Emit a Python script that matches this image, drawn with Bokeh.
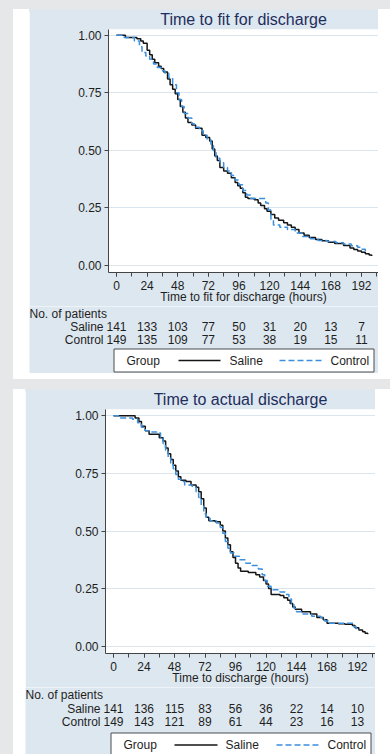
from bokeh.plotting import figure
from bokeh.models import Range1d, FixedTicker, PrintfTickFormatter, Div, Plot
from bokeh.layouts import column, row
from bokeh.core.properties import value
from bokeh.embed import file_html
from bokeh.resources import INLINE

# ---------------- data ----------------
x_ticks = [0, 24, 48, 72, 96, 120, 144, 168, 192]
x_minor = [0, 12, 24, 36, 48, 60, 72, 84, 96, 108, 120, 132, 144, 156, 168, 180, 192, 204]
y_ticks = [0.0, 0.25, 0.5, 0.75, 1.0]
groups = ["Saline", "Control"]
legend_title = "Group"
risk_header = "No. of patients"

# Panel 1: time to fit for discharge
fit_title = "Time to fit for discharge"
fit_xlabel = "Time to fit for discharge (hours)"
fit_saline_time = [0, 7, 16, 19, 21, 24, 26, 28, 30, 33, 35, 37, 40, 42, 44, 46, 48, 50, 52, 54,
                   56, 59, 62, 67, 70, 73, 75, 77, 79, 81, 84, 87, 90, 93, 95, 97, 99, 101, 103, 108,
                   111, 113, 116, 118, 121, 124, 127, 131, 134, 137, 140, 143, 147, 151, 156, 161, 166, 171, 178, 183,
                   186, 189, 192, 195, 198, 200]
fit_saline_surv = [1.0, 0.99, 0.985, 0.975, 0.965, 0.935, 0.915, 0.895, 0.88, 0.865, 0.855, 0.84, 0.81, 0.785, 0.765, 0.745, 0.72, 0.69, 0.665, 0.64,
                   0.62, 0.61, 0.595, 0.565, 0.555, 0.54, 0.505, 0.475, 0.455, 0.425, 0.41, 0.40, 0.38, 0.36, 0.345, 0.335, 0.315, 0.295, 0.29, 0.285,
                   0.27, 0.26, 0.245, 0.235, 0.22, 0.205, 0.195, 0.185, 0.175, 0.165, 0.155, 0.14, 0.13, 0.12, 0.112, 0.106, 0.10, 0.094, 0.086, 0.075,
                   0.068, 0.062, 0.056, 0.05, 0.045, 0.04]
fit_control_time = [0, 6, 14, 18, 20, 23, 26, 29, 32, 35, 38, 41, 44, 47, 49, 51, 53, 56, 59, 61,
                    65, 68, 71, 74, 76, 78, 81, 84, 87, 90, 93, 96, 99, 102, 105, 117, 119, 121, 123, 128,
                    134, 140, 146, 152, 158, 165, 172, 178, 184, 189, 192, 195]
fit_control_surv = [1.0, 0.99, 0.975, 0.95, 0.925, 0.91, 0.895, 0.875, 0.86, 0.845, 0.835, 0.815, 0.785, 0.75, 0.72, 0.69, 0.66, 0.64, 0.615, 0.60,
                    0.585, 0.565, 0.545, 0.52, 0.49, 0.465, 0.445, 0.425, 0.41, 0.39, 0.37, 0.35, 0.325, 0.305, 0.29, 0.27, 0.24, 0.20, 0.175, 0.165,
                    0.155, 0.14, 0.125, 0.115, 0.108, 0.103, 0.098, 0.092, 0.085, 0.078, 0.07, 0.055]
fit_risk_saline = [141, 133, 103, 77, 50, 31, 20, 13, 7]
fit_risk_control = [149, 135, 109, 77, 53, 38, 19, 15, 11]

# Panel 2: time to actual discharge
act_title = "Time to actual discharge"
act_xlabel = "Time to discharge (hours)"
act_saline_time = [0, 17, 20, 22, 25, 28, 36, 39, 41, 43, 45, 47, 49, 51, 53, 57, 61, 65, 67, 69,
                   71, 73, 75, 80, 84, 86, 88, 90, 92, 94, 96, 98, 100, 106, 112, 115, 118, 120, 122, 124,
                   131, 134, 137, 139, 141, 143, 148, 155, 160, 165, 168, 177, 182, 188, 190, 193, 196, 198, 200]
act_saline_surv = [1.0, 0.99, 0.975, 0.955, 0.935, 0.92, 0.905, 0.89, 0.86, 0.835, 0.81, 0.785, 0.76, 0.735, 0.72, 0.715, 0.70, 0.69, 0.67, 0.64,
                   0.60, 0.56, 0.545, 0.54, 0.525, 0.50, 0.47, 0.44, 0.41, 0.385, 0.36, 0.34, 0.325, 0.32, 0.31, 0.30, 0.285, 0.27, 0.25, 0.225,
                   0.22, 0.21, 0.20, 0.185, 0.17, 0.16, 0.15, 0.14, 0.125, 0.115, 0.10, 0.098, 0.095, 0.09, 0.08, 0.07, 0.063, 0.056, 0.052]
act_control_time = [0, 4, 15, 19, 22, 25, 28, 34, 37, 39, 41, 43, 45, 47, 49, 51, 53, 56, 62, 65,
                    67, 69, 71, 73, 76, 81, 84, 86, 88, 90, 92, 95, 99, 104, 109, 114, 117, 119, 121, 124,
                    131, 135, 138, 140, 142, 144, 149, 156, 163, 166, 169, 189, 191, 193]
act_control_surv = [1.0, 0.99, 0.985, 0.97, 0.95, 0.935, 0.93, 0.925, 0.90, 0.88, 0.85, 0.82, 0.795, 0.77, 0.745, 0.725, 0.715, 0.70, 0.69, 0.67,
                    0.645, 0.61, 0.575, 0.555, 0.545, 0.535, 0.515, 0.49, 0.455, 0.425, 0.405, 0.39, 0.375, 0.36, 0.35, 0.335, 0.31, 0.285, 0.26, 0.245,
                    0.235, 0.225, 0.205, 0.185, 0.165, 0.15, 0.14, 0.13, 0.125, 0.11, 0.10, 0.085, 0.075, 0.07]
act_risk_saline = [141, 136, 115, 83, 56, 36, 22, 14, 10]
act_risk_control = [149, 143, 121, 89, 61, 44, 23, 16, 13]

# ---------------- style ----------------
FONT = "Liberation Sans"
PAGE_BG = "#e6e7e9"
CARD = "#ffffff"
PANEL = "#dde7ef"
GRID = "#dae5ee"
TEXT = "#1e1e1e"
TITLE_C = "#1f2d5c"
AXIS_C = "#444444"
SAL_C = "#151515"
CON_C = "#3b8fdc"
DASH = "6 3"
HAS_FRAME_ALIGN = "frame_align" in Plot.properties()


def block(w, h, color):
    return Div(text=f'<div style="width:{w}px;height:{h}px;background:{color}"></div>',
               width=w, height=h, margin=0, styles={"background-color": color})


def km_figure(title, xlabel, st, ss, ct, cs, w, ml, mt, fh, mb, xr, yr):
    p = figure(width=w, height=mt + fh + mb, x_range=Range1d(*xr), y_range=Range1d(*yr),
               output_backend="svg", toolbar_location=None,
               min_border_left=ml, min_border_right=0, min_border_top=mt,
               min_border_bottom=mb, border_fill_color=PANEL,
               background_fill_color="white", outline_line_color=None)
    if HAS_FRAME_ALIGN:
        p.frame_align = False
    p.title.text = title
    p.title.align = "center"
    p.title.vertical_align = "top"
    p.title.standoff = 0
    p.title.text_font = FONT
    p.title.text_font_size = "16px"
    p.title.text_font_style = "normal"
    p.title.text_color = TITLE_C
    p.xaxis.ticker = FixedTicker(ticks=x_ticks, minor_ticks=x_minor)
    p.yaxis.ticker = FixedTicker(ticks=y_ticks, minor_ticks=[])
    p.yaxis.formatter = PrintfTickFormatter(format="%.2f")
    for ax in (p.xaxis[0], p.yaxis[0]):
        ax.axis_line_color = AXIS_C
        ax.major_tick_line_color = AXIS_C
        ax.minor_tick_line_color = AXIS_C
        ax.major_tick_in = 0
        ax.major_tick_out = 4
        ax.minor_tick_in = 0
        ax.major_label_text_font = FONT
        ax.major_label_text_font_size = "12px"
        ax.major_label_text_color = TEXT
        ax.axis_label_text_font = FONT
        ax.axis_label_text_font_style = "normal"
        ax.axis_label_text_color = TEXT
    p.xaxis.minor_tick_out = 4
    p.yaxis.minor_tick_out = 0
    p.yaxis.major_label_standoff = 3
    p.yaxis.major_label_orientation = "horizontal"
    p.xaxis.major_label_standoff = 4
    p.xaxis.axis_label = xlabel
    p.xaxis.axis_label_text_font_size = "12px"
    p.xaxis.axis_label_standoff = -3
    p.xgrid.visible = False
    p.ygrid.grid_line_color = GRID
    p.ygrid.grid_line_width = 1
    p.step(st, ss, mode="after", line_color=SAL_C, line_width=1.5)
    p.step(ct, cs, mode="after", line_color=CON_C, line_width=1.5, line_dash=DASH)
    return p


def table_figure(rs, rc, w, h, xr, rows_y, name_px, box, leg_px):
    # x: hours (same mapping as the plot above); "px": pixel layout space
    p = figure(frame_width=w, frame_height=h, x_range=Range1d(*xr), y_range=Range1d(h, 0),
               output_backend="svg", toolbar_location=None,
               x_axis_type=None, y_axis_type=None,
               min_border_left=0, min_border_right=0, min_border_top=0,
               min_border_bottom=0, border_fill_color=PANEL,
               background_fill_color=PANEL, outline_line_color=None)
    if HAS_FRAME_ALIGN:
        p.frame_align = False
    p.extra_x_ranges = {"px": Range1d(0, w)}
    common = dict(text_font=value(FONT), text_font_size=value("12px"),
                  text_color=TEXT, text_baseline="middle")
    hy, sy, cy = rows_y
    p.text(x=[0], y=[hy], text=[risk_header], text_align="left", x_range_name="px", **common)
    p.text(x=[name_px, name_px], y=[sy, cy], text=groups, text_align="right",
           x_range_name="px", **common)
    xs = x_ticks + x_ticks
    ys = [sy] * len(rs) + [cy] * len(rc)
    labels = [str(n) for n in rs] + [str(n) for n in rc]
    p.text(x=xs, y=ys, text=labels, text_align="center", **common)
    # legend box
    bl, br, bt, bb = box
    p.quad(left=[bl], right=[br], top=[bt], bottom=[bb], fill_color="white",
           line_color="#4d4d4d", line_width=1, x_range_name="px")
    ly = (bt + bb) / 2
    tg, s0, s1, ls, c0, c1, lc = leg_px
    p.line(x=[s0, s1], y=[ly, ly], line_color=SAL_C, line_width=1.5, x_range_name="px")
    p.line(x=[c0, c1], y=[ly, ly], line_color=CON_C, line_width=1.5, line_dash=DASH,
           x_range_name="px")
    p.text(x=[tg, ls, lc], y=[ly, ly, ly], text=[legend_title] + groups,
           text_align="left", x_range_name="px", **common)
    return p


# pixel geometry: x = 0 h at X0 px from panel left, K px per hour
P1_W, P1_ML, P1_X0, P1_K = 349, 79, 87, 1.276
P2_W, P2_ML, P2_X0, P2_K = 350, 80, 88, 1.271


def hours(px, x0, k):
    return (px - x0) / k


fA1 = km_figure(fit_title, fit_xlabel, fit_saline_time, fit_saline_surv, fit_control_time,
                fit_control_surv, P1_W, P1_ML, 20, 244, 33,
                (hours(P1_ML, P1_X0, P1_K), hours(P1_W, P1_X0, P1_K)), (-0.0316, 1.0247))
fB1 = table_figure(fit_risk_saline, fit_risk_control, P1_W, 67,
                   (hours(0, P1_X0, P1_K), hours(P1_W, P1_X0, P1_K)),
                   (7, 20, 33), 74, (84.5, 344.5, 42.5, 65.5),
                   (97, 149, 191, 200, 250, 293, 301))

fA2 = km_figure(act_title, act_xlabel, act_saline_time, act_saline_surv, act_control_time,
                act_control_surv, P2_W, P2_ML, 20, 245, 33,
                (hours(P2_ML, P2_X0, P2_K), hours(P2_W, P2_X0, P2_K)), (-0.0315, 1.0272))
fB2 = table_figure(act_risk_saline, act_risk_control, P2_W, 67,
                   (hours(0, P2_X0, P2_K), hours(P2_W, P2_X0, P2_K)),
                   (7, 21, 34), 75, (85.5, 345.5, 45.5, 69.5),
                   (98, 149, 192, 200, 251, 294, 302))

card1 = row(block(13, 370, PAGE_BG), block(16, 370, CARD),
            column(fA1, fB1, block(P1_W, 6, CARD)), block(12, 370, CARD))
card2 = row(block(13, 365, PAGE_BG), block(12, 365, CARD),
            column(fA2, fB2), block(15, 365, CARD))
page = column(block(390, 9, PAGE_BG), card1, block(390, 10, PAGE_BG), card2)

open("out.html", "w").write(file_html(page, INLINE))
